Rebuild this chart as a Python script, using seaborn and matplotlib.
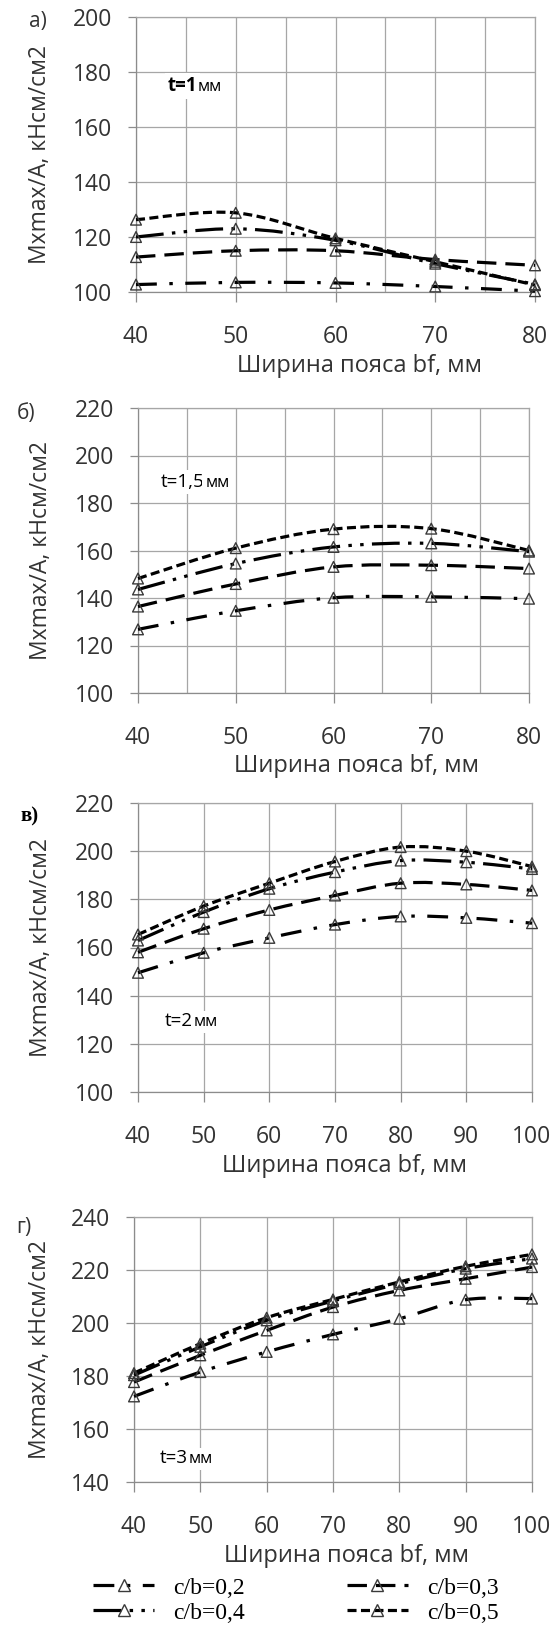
import numpy as np
import matplotlib
matplotlib.use("Agg")
import matplotlib.pyplot as plt
from matplotlib.path import Path
from matplotlib.patches import PathPatch
from matplotlib.lines import Line2D
import seaborn as sns
import pandas as pd

# ---------------- data ----------------
series_labels = ["c/b=0,2", "c/b=0,3", "c/b=0,4", "c/b=0,5"]

bf_a = [40, 50, 60, 70, 80]
a_cb02 = [102.7, 103.5, 103.3, 102.0, 100.3]
a_cb03 = [112.7, 115.0, 115.0, 111.8, 109.7]
a_cb04 = [120.0, 123.0, 118.8, 110.3, 102.8]
a_cb05 = [126.3, 128.8, 119.5, 111.0, 102.5]

bf_b = [40, 50, 60, 70, 80]
b_cb02 = [126.8, 134.6, 140.1, 140.5, 139.7]
b_cb03 = [136.4, 145.9, 153.1, 153.8, 152.4]
b_cb04 = [143.6, 154.5, 161.5, 163.0, 159.5]
b_cb05 = [148.2, 161.0, 169.0, 169.2, 160.0]

bf_v = [40, 50, 60, 70, 80, 90, 100]
v_cb02 = [149.5, 157.8, 164.0, 169.5, 172.9, 172.3, 170.1]
v_cb03 = [158.0, 167.8, 175.6, 181.6, 186.7, 186.2, 183.7]
v_cb04 = [162.9, 174.7, 184.4, 191.3, 196.1, 195.4, 192.6]
v_cb05 = [165.4, 177.2, 186.7, 195.7, 201.7, 200.0, 193.6]

bf_g = [40, 50, 60, 70, 80, 90, 100]
g_cb02 = [172.3, 181.5, 189.1, 195.7, 201.6, 208.8, 209.2]
g_cb03 = [177.7, 187.8, 197.2, 206.0, 212.3, 216.7, 221.1]
g_cb04 = [180.3, 191.0, 201.0, 208.3, 214.8, 220.5, 224.3]
g_cb05 = [181.1, 192.2, 202.0, 208.9, 215.5, 221.4, 225.9]

panel_letters = ["а)", "б)", "в)", "г)"]
note_values = ["t=1", "t=1,5", "t=2", "t=3"]
note_unit = "мм"
y_ticks_a = [100, 120, 140, 160, 180, 200]
y_ticks_b = [100, 120, 140, 160, 180, 200, 220]
y_ticks_v = [100, 120, 140, 160, 180, 200, 220]
y_ticks_g = [140, 160, 180, 200, 220, 240]
x_ticks_short = [40, 50, 60, 70, 80]
x_ticks_long = [40, 50, 60, 70, 80, 90, 100]
xlabel_text = "Ширина пояса bf, мм"
ylabel_text = "Mxmax/A, кНсм/см2"

# ---------------- style ----------------
sns.set_theme(style="white")
plt.rcParams["font.family"] = ["Open Sans", "DejaVu Sans"]
plt.rcParams["lines.scale_dashes"] = False

TXT = "#333333"
GRID = "#a6a6a6"
SPINE = "#8c8c8c"
LW = 2.3
dash_styles = [
    (0, (15, 9, 2.5, 9)),          # c/b=0,2 dash-dot
    (0, (14, 6.5)),                # c/b=0,3 long dashes
    (0, (20, 6, 2.5, 6, 2.5, 6)),  # c/b=0,4 dash-dot-dot
    (0, (6.5, 3.2)),               # c/b=0,5 short dashes
]

W, H = 560, 1634
fig = plt.figure(figsize=(W / 100, H / 100), dpi=100)


def rect(l, r, t, b):
    return [l / W, 1 - b / H, (r - l) / W, (b - t) / H]


def smooth_path(xs, ys):
    pts = np.column_stack([np.asarray(xs, float), np.asarray(ys, float)])
    n = len(pts)
    verts = [pts[0]]
    codes = [Path.MOVETO]
    for i in range(n - 1):
        p0 = pts[i - 1] if i > 0 else pts[i]
        p1, p2 = pts[i], pts[i + 1]
        p3 = pts[i + 2] if i + 2 < n else pts[i + 1]
        verts += [p1 + (p2 - p0) / 6.0, p2 - (p3 - p1) / 6.0, p2]
        codes += [Path.CURVE4] * 3
    return Path(verts, codes)


panels = [
    dict(rect=rect(136, 535, 17, 292), x=bf_a, ys=[a_cb02, a_cb03, a_cb04, a_cb05],
         yt=y_ticks_a, xt=x_ticks_short, minor=True, xl=0.56, yl=-0.240,
         letter=(38, 22), note=(168, 91), bold=True),
    dict(rect=rect(138, 529, 408, 693), x=bf_b, ys=[b_cb02, b_cb03, b_cb04, b_cb05],
         yt=y_ticks_b, xt=x_ticks_short, minor=True, xl=0.56, yl=-0.248,
         letter=(26, 414), note=(161, 487), bold=False),
    dict(rect=rect(138, 532, 803, 1092), x=bf_v, ys=[v_cb02, v_cb03, v_cb04, v_cb05],
         yt=y_ticks_v, xt=x_ticks_long, minor=False, xl=0.523, yl=-0.246,
         letter=(30, 816), note=(165, 1026), bold=False),
    dict(rect=rect(134, 532, 1217, 1482), x=bf_g, ys=[g_cb02, g_cb03, g_cb04, g_cb05],
         yt=y_ticks_g, xt=x_ticks_long, minor=False, xl=0.535, yl=-0.236,
         letter=(24, 1227), note=(160, 1463), bold=False),
]

for k, p in enumerate(panels):
    ax = fig.add_axes(p["rect"])
    ax.set_facecolor("white")
    # smoothed curves (Excel-style Bezier through the data points)
    for j, yv in enumerate(p["ys"]):
        patch = PathPatch(smooth_path(p["x"], yv), fill=False, edgecolor="black",
                          lw=LW, linestyle=dash_styles[j], capstyle="butt",
                          joinstyle="round", zorder=3, clip_on=False)
        ax.add_patch(patch)
    # markers through seaborn
    df = pd.DataFrame({
        "bf": np.tile(p["x"], 4),
        "val": np.concatenate([np.asarray(v, float) for v in p["ys"]]),
        "series": np.repeat(series_labels, len(p["x"])),
    })
    sns.scatterplot(data=df, x="bf", y="val", marker="^", s=60,
                    facecolor="none", edgecolor="#3a3a3a", linewidth=1.0,
                    legend=False, ax=ax, zorder=4, clip_on=False)

    ax.set_xlim(p["xt"][0], p["xt"][-1])
    ax.set_ylim(p["yt"][0], p["yt"][-1])
    ax.set_xticks(p["xt"])
    ax.set_yticks(p["yt"])
    if p["minor"]:
        ax.set_xticks(np.arange(p["xt"][0] + 5, p["xt"][-1], 10), minor=True)
        ax.tick_params(axis="x", which="minor", length=0)
    ax.grid(True, which="both", color=GRID, lw=0.9, zorder=0)
    ax.set_axisbelow(True)
    for s in ax.spines.values():
        s.set_color(GRID)
        s.set_linewidth(0.9)
    ax.spines["left"].set_color(SPINE)
    ax.spines["bottom"].set_color(SPINE)
    ax.tick_params(axis="x", which="major", length=7, width=0.9, color=SPINE,
                   pad=17, labelsize=16.5, labelcolor=TXT, direction="out")
    ax.tick_params(axis="y", which="major", length=6, width=0.9, color=SPINE,
                   pad=11, labelsize=16.5, labelcolor=TXT, direction="out")
    ax.tick_params(bottom=True, left=True)

    ax.set_xlabel(xlabel_text, fontsize=17, color=TXT, labelpad=3)
    ax.xaxis.label.set_x(p["xl"])
    ax.set_ylabel(ylabel_text, fontsize=16.5, color=TXT)
    ax.yaxis.set_label_coords(p["yl"], 0.5)
    ax.yaxis.label.set_va("center")

    # notes "t=...мм" with white background (value + smaller unit on same baseline)
    nx, ny = p["note"]
    t1 = fig.text(nx / W, 1 - ny / H, note_values[k], fontsize=13.5, color="black",
                  fontweight="bold" if p["bold"] else "normal",
                  ha="left", va="baseline", zorder=5,
                  bbox=dict(facecolor="white", edgecolor="none", pad=2))
    fig.text(0, 0, "", alpha=0)
    fig.canvas.draw()
    bb = t1.get_window_extent()
    fig.text(bb.x1 / W + 0.5 / W, 1 - ny / H, note_unit, fontsize=12, color="black",
             ha="left", va="baseline", zorder=5,
             bbox=dict(facecolor="white", edgecolor="none", pad=2))
    lx, ly = p["letter"]
    if k == 2:
        fig.text(lx / W, 1 - ly / H, panel_letters[k], fontsize=15,
                 family=["Liberation Serif", "DejaVu Serif"], fontweight="bold",
                 color="black", ha="center", va="center")
    else:
        fig.text(lx / W, 1 - ly / H, panel_letters[k], fontsize=15,
                 color=TXT, ha="center", va="center")

# legend (row-wise order: 0,2 | 0,3 / 0,4 | 0,5)
handles = [Line2D([0], [0], color="black", lw=LW, linestyle=dash_styles[j],
                  marker="^", markersize=8, markerfacecolor="none",
                  markeredgecolor="#3a3a3a", markeredgewidth=1.0,
                  dash_capstyle="butt")
           for j in range(4)]
order = [0, 2, 1, 3]
leg = fig.legend([handles[i] for i in order], [series_labels[i] for i in order],
                 ncol=2, loc="upper left",
                 bbox_to_anchor=(93 / W, 1 - 1577 / H), frameon=False,
                 borderaxespad=0, borderpad=0, handlelength=2.6,
                 handletextpad=0.8, columnspacing=4.3, labelspacing=0.15,
                 numpoints=1,
                 prop={"family": ["Liberation Serif", "DejaVu Serif"], "size": 17})
for t in leg.get_texts():
    t.set_color("black")

fig.savefig("out.png", dpi=100, facecolor="white")
